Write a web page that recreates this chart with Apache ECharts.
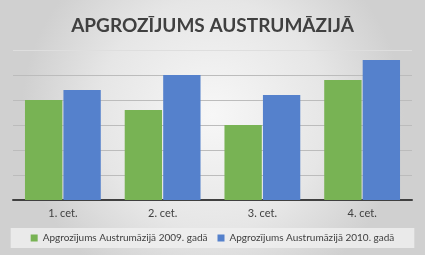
<!DOCTYPE html>
<html><head><meta charset="utf-8">
<script src="https://cdn.jsdelivr.net/npm/echarts@6/dist/echarts.min.js"></script>
<style>html,body{margin:0;padding:0;}#c{width:425px;height:255px;}</style>
</head><body><div id="c"></div>
<script>
const title = 'APGROZĪJUMS AUSTRUMĀZIJĀ';
const categories = ['1. cet.', '2. cet.', '3. cet.', '4. cet.'];
const seriesNames = ['Apgrozījums Austrumāzijā 2009. gadā', 'Apgrozījums Austrumāzijā 2010. gadā'];
const values2009 = [4.0, 3.6, 3.0, 4.8];
const values2010 = [4.4, 5.0, 4.2, 5.6];

const chart = echarts.init(document.getElementById('c'), null, {renderer: 'canvas'});
chart.setOption({
  backgroundColor: {
    type: 'radial', x: 0.5, y: 0.45, r: 0.75,
    colorStops: [{offset: 0, color: '#f7f7f7'}, {offset: 0.6, color: '#e6e6e6'}, {offset: 1, color: '#d0d0d0'}]
  },
  animation: false,
  title: {
    text: title, left: 'center', top: 11,
    textStyle: {fontFamily: 'Lato', fontWeight: 'bold', fontSize: 19, color: '#404040'}
  },
  legend: {
    data: seriesNames, bottom: 7, left: 'center', width: 400,
    itemWidth: 7, itemHeight: 7, itemGap: 10, icon: 'rect',
    padding: [5, 20, 5, 20],
    backgroundColor: 'rgba(240,240,240,0.8)',
    textStyle: {fontFamily: 'Lato', fontSize: 10, color: '#404040'}
  },
  grid: {left: 13, right: 13, top: 50, bottom: 55, containLabel: false},
  xAxis: {
    type: 'category', data: categories,
    axisLine: {lineStyle: {color: '#404040', width: 2}},
    axisTick: {show: false},
    axisLabel: {fontFamily: 'Lato', fontSize: 11, color: '#404040', margin: 8}
  },
  yAxis: {
    type: 'value', min: 0, max: 6, interval: 1,
    axisLabel: {show: false}, axisLine: {show: false}, axisTick: {show: false},
    splitLine: {lineStyle: {color: ['#bcbcbc','#bcbcbc','#bcbcbc','#bcbcbc','#bcbcbc','#bcbcbc','#dedede'], width: 1}}
  },
  series: [
    {name: seriesNames[0], type: 'bar', data: values2009, barGap: '3%', barCategoryGap: '24%',
     itemStyle: {color: '#78b354'}},
    {name: seriesNames[1], type: 'bar', data: values2010, barGap: '3%', barCategoryGap: '24%',
     itemStyle: {color: '#5581cc'}}
  ]
});
</script>
</body></html>
